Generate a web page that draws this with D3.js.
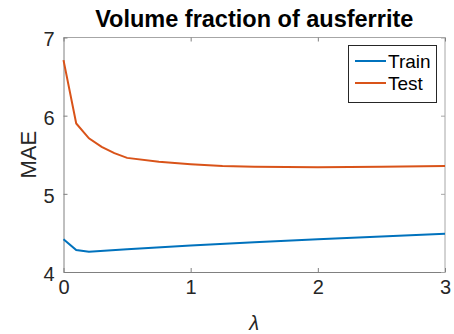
<!DOCTYPE html>
<html><head><meta charset="utf-8">
<script src="https://cdn.jsdelivr.net/npm/d3@7"></script>
<style>body{margin:0;background:#fff}svg{display:block}</style>
</head><body><svg id="c" width="454" height="334"></svg>
<script>
const lambdaTrain = [0, 0.1, 0.2, 0.5, 1, 1.5, 2, 2.5, 3];
const train = [4.42, 4.28, 4.26, 4.29, 4.34, 4.38, 4.42, 4.455, 4.49];
const lambdaTest = [0, 0.1, 0.2, 0.3, 0.4, 0.5, 0.75, 1, 1.25, 1.5, 2, 2.5, 3];
const test = [6.71, 5.90, 5.71, 5.60, 5.52, 5.46, 5.41, 5.38, 5.355, 5.345, 5.34, 5.345, 5.355];
const xTicks = [0, 1, 2, 3];
const yTicks = [4, 5, 6, 7];
const seriesNames = ["Train", "Test"];
const colors = ["#0072BD", "#D95319"];

const svg = d3.select("#c");
const L = 63.5, R = 445, T = 37.5, B = 272;
const x = d3.scaleLinear().domain([0, 3]).range([L, R]);
const y = d3.scaleLinear().domain([4, 7]).range([B, T]);
const font = "Liberation Sans, Arial, sans-serif";
const axisCol = "#262626";

// box top/right
svg.append("path").attr("d", `M${L},${T}H${R}V${B}`).attr("fill","none").attr("stroke","#a6a6a6").attr("stroke-width",1);

const gx = svg.append("g").attr("transform", `translate(0,${B})`)
  .call(d3.axisBottom(x).tickValues(xTicks).tickSizeInner(-4).tickSizeOuter(0).tickPadding(8).tickFormat(d3.format("d")));
const gy = svg.append("g").attr("transform", `translate(${L},0)`)
  .call(d3.axisLeft(y).tickValues(yTicks).tickSizeInner(-4).tickSizeOuter(0).tickPadding(9).tickFormat(d3.format("d")));
// top ticks & right ticks
svg.append("g").attr("transform", `translate(0,${T})`)
  .call(d3.axisTop(x).tickValues(xTicks).tickSizeInner(-4).tickSizeOuter(0).tickFormat(""))
  .call(g => { g.select(".domain").remove(); g.selectAll("line").attr("stroke","#808080"); });
svg.append("g").attr("transform", `translate(${R},0)`)
  .call(d3.axisRight(y).tickValues(yTicks).tickSizeInner(-4).tickSizeOuter(0).tickFormat(""))
  .call(g => { g.select(".domain").remove(); g.selectAll("line").attr("stroke","#a6a6a6"); });

[gx, gy].forEach(g => {
  g.select(".domain").attr("stroke", "#808080");
  g.selectAll("line").attr("stroke", "#808080");
  g.selectAll("text").attr("font-family", font).attr("font-size", 20).attr("fill", axisCol);
});
gx.selectAll("text").attr("dy", "0.72em");
gy.selectAll("text").attr("dy", "0.42em");

const line = d3.line().x(d => x(d[0])).y(d => y(d[1]));
const trainPts = lambdaTrain.map((l, i) => [l, train[i]]);
const testPts = lambdaTest.map((l, i) => [l, test[i]]);
svg.append("path").datum(trainPts).attr("d", line).attr("fill","none").attr("stroke", colors[0]).attr("stroke-width", 2);
svg.append("path").datum(testPts).attr("d", line).attr("fill","none").attr("stroke", colors[1]).attr("stroke-width", 2);

// title
svg.append("text").attr("x", (L + R) / 2).attr("y", 27).attr("text-anchor", "middle")
  .attr("font-family", font).attr("font-weight", "bold").attr("font-size", 23.5).attr("fill", "#000")
  .text("Volume fraction of ausferrite");
// y label
svg.append("text").attr("transform", `translate(36,${(T + B) / 2}) rotate(-90)`).attr("text-anchor", "middle")
  .attr("font-family", font).attr("font-size", 22).attr("fill", axisCol).text("MAE");
// x label
svg.append("text").attr("x", (L + R) / 2).attr("y", 330).attr("text-anchor", "middle")
  .attr("font-family", font).attr("font-style", "italic").attr("font-size", 20).attr("fill", axisCol).text("λ");

// legend
const lg = svg.append("g");
lg.append("rect").attr("x", 348.5).attr("y", 45.5).attr("width", 88).attr("height", 57)
  .attr("fill", "#fff").attr("stroke", "#262626").attr("stroke-width", 1);
seriesNames.forEach((n, i) => {
  const cy = 61 + i * 22;
  lg.append("line").attr("x1", 355).attr("x2", 386).attr("y1", cy).attr("y2", cy).attr("stroke", colors[i]).attr("stroke-width", 2);
  lg.append("text").attr("x", 388).attr("y", cy).attr("dy", "0.36em").attr("font-family", font)
    .attr("font-size", 19).attr("fill", "#000").text(n);
});
</script></body></html>
